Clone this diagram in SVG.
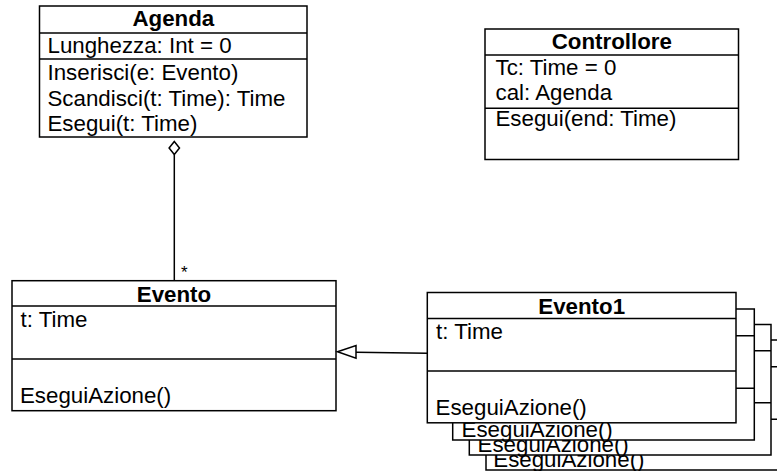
<svg xmlns="http://www.w3.org/2000/svg" width="777" height="471" viewBox="0 0 777 471">
  <style>
    .box { fill: #fff; stroke: #000; stroke-width: 1.5; }
    .sep { stroke: #000; stroke-width: 1.5; fill: none; }
    .t { font-family: "Liberation Sans", Arial, Helvetica, sans-serif; font-size: 22.3px; fill: #000; }
    .title { font-weight: bold; text-anchor: middle; }
    .line { stroke: #000; stroke-width: 1.5; fill: none; }
    .head { fill: #fff; stroke: #000; stroke-width: 1.5; }
  </style>
  <rect x="0" y="0" width="777" height="471" fill="#fff"/>

  <!-- Agenda class -->
  <g id="agenda">
    <rect class="box" x="39.5" y="6" width="267.5" height="131"/>
    <line class="sep" x1="39.5" y1="33" x2="307" y2="33"/>
    <line class="sep" x1="39.5" y1="59" x2="307" y2="59"/>
    <text class="t title" x="173.3" y="26">Agenda</text>
    <text class="t" x="47.5" y="52.5">Lunghezza: Int = 0</text>
    <text class="t" x="47.5" y="79.5">Inserisci(e: Evento)</text>
    <text class="t" x="47.5" y="105.5">Scandisci(t: Time): Time</text>
    <text class="t" x="47.5" y="131">Esegui(t: Time)</text>
  </g>

  <!-- Controllore class -->
  <g id="controllore">
    <rect class="box" x="485" y="29" width="253.5" height="130.5"/>
    <line class="sep" x1="485" y1="55" x2="738.5" y2="55"/>
    <line class="sep" x1="485" y1="108.3" x2="738.5" y2="108.3"/>
    <text class="t title" x="611.8" y="49">Controllore</text>
    <text class="t" x="495.5" y="75">Tc: Time = 0</text>
    <text class="t" x="495.5" y="100">cal: Agenda</text>
    <text class="t" x="495.5" y="126">Esegui(end: Time)</text>
  </g>

  <!-- Evento class -->
  <g id="evento">
    <rect class="box" x="12" y="280.7" width="324" height="130"/>
    <line class="sep" x1="12" y1="306" x2="336" y2="306"/>
    <line class="sep" x1="12" y1="359" x2="336" y2="359"/>
    <text class="t title" x="174" y="302">Evento</text>
    <text class="t" x="20.5" y="327">t: Time</text>
    <text class="t" x="20" y="403">EseguiAzione()</text>
  </g>

  <!-- Evento1 class, drawn as a stack of instances -->
  <g id="evento1">
    <g id="evento1-layer4">
      <rect class="box" x="486" y="340" width="302" height="130"/>
      <line class="sep" x1="486" y1="366.7" x2="788" y2="366.7"/>
      <line class="sep" x1="486" y1="419.3" x2="788" y2="419.3"/>
      <text class="t" x="493.3" y="467">EseguiAzione()</text>
    </g>
    <g id="evento1-layer3">
      <rect class="box" x="469.3" y="324.5" width="301.7" height="130.5"/>
      <line class="sep" x1="469.3" y1="350.7" x2="771" y2="350.7"/>
      <line class="sep" x1="469.3" y1="402.7" x2="771" y2="402.7"/>
      <text class="t" x="477.6" y="452">EseguiAzione()</text>
    </g>
    <g id="evento1-layer2">
      <rect class="box" x="452.7" y="309" width="301.6" height="131"/>
      <line class="sep" x1="452.7" y1="335.7" x2="754.3" y2="335.7"/>
      <line class="sep" x1="452.7" y1="388.3" x2="754.3" y2="388.3"/>
      <text class="t" x="461.6" y="437">EseguiAzione()</text>
    </g>
    <g id="evento1-front">
      <rect class="box" x="427.3" y="292.5" width="308.7" height="130.3"/>
      <line class="sep" x1="427.3" y1="318.5" x2="736" y2="318.5"/>
      <line class="sep" x1="427.3" y1="371" x2="736" y2="371"/>
      <text class="t title" x="581.7" y="314">Evento1</text>
      <text class="t" x="436" y="339">t: Time</text>
      <text class="t" x="435.6" y="415">EseguiAzione()</text>
    </g>
  </g>

  <!-- Connectors -->
  <g id="connectors">
    <!-- aggregation: Agenda (diamond end) to many Evento -->
    <line class="line" x1="174.3" y1="154.5" x2="174.3" y2="280.7"/>
    <polygon class="head" points="174.3,141.5 179.5,148 174.3,154.5 169.1,148"/>
    <text x="181" y="278" font-family="Liberation Sans, Arial, sans-serif" font-size="17" fill="#000">*</text>
    <!-- generalization: Evento1 extends Evento (hollow triangle) -->
    <line class="line" x1="356" y1="352.2" x2="427.3" y2="353.3"/>
    <polygon class="head" points="337.5,351.8 356,345.5 356,358.3"/>
  </g>
</svg>
